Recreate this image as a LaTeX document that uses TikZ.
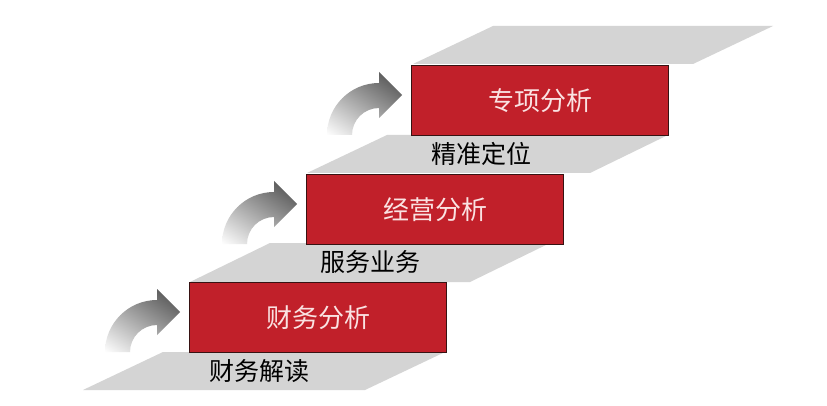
\documentclass[tikz,border=0pt]{standalone}
\usepackage{fontspec}
\usetikzlibrary{shadings}
\newfontfamily\cjk{Noto Sans CJK SC}
\definecolor{boxred}{RGB}{193,32,42}
\definecolor{boxedge}{RGB}{55,18,18}
\definecolor{bandgray}{RGB}{212,212,212}
\definecolor{boxtext}{RGB}{250,226,226}
\definecolor{arrdark}{RGB}{70,70,70}
\definecolor{arrmid}{RGB}{150,150,150}
\definecolor{arrmid2}{RGB}{170,170,170}
\tikzset{
  redbox/.style={draw=boxedge, line width=1.2pt, fill=boxred, anchor=north west,
    minimum width=257pt, minimum height=70pt, inner sep=0pt,
    font=\cjk\fontsize{26}{26}\selectfont, text=boxtext},
  band/.style={fill=bandgray},
  bandlabel/.style={font=\cjk\fontsize{25}{25}\selectfont, text=black, inner sep=0pt},
  curvearrow/.style={upper right=arrdark, upper left=arrmid, lower right=arrmid2, lower left=white}
}
\newcommand{\stepArrow}{%
  (-84,70) .. controls (-84,41.3) and (-60.7,18) .. (-32,18) -- (-32,7) -- (-9,30)
  -- (-32,53) -- (-32,43) .. controls (-46.9,43) and (-59,55.1) .. (-59,70) -- cycle}
\begin{document}
\begin{tikzpicture}[x=1pt,y=-1pt]
\useasboundingbox (0,0) rectangle (827,406);
\fill[white] (0,0) rectangle (827,406);
% bands
\fill[band] (163,352) -- (445,352) -- (365,390) -- (83,390) -- cycle;
\fill[band] (270,243) -- (550,243) -- (470,282) -- (190,282) -- cycle;
\fill[band] (387,135) -- (668,135) -- (590,173) -- (307,173) -- cycle;
\fill[band] (493,26) -- (773,26) -- (693,64) -- (413,64) -- cycle;
% boxes
\node[redbox] (b1) at (189,282) {财务分析};
\node[redbox] (b2) at (306,174) {经营分析};
\node[redbox] (b3) at (411,65) {专项分析};
% labels
\node[bandlabel] (l1) at (259,371) {财务解读};
\node[bandlabel] (l2) at (370,262) {服务业务};
\node[bandlabel] (l3) at (481,154) {精准定位};
% arrows
\foreach \b in {b1,b2,b3}{
  \begin{scope}[shift={(\b.north west)}]
    \shade[curvearrow] \stepArrow;
  \end{scope}
}
\end{tikzpicture}
\end{document}
